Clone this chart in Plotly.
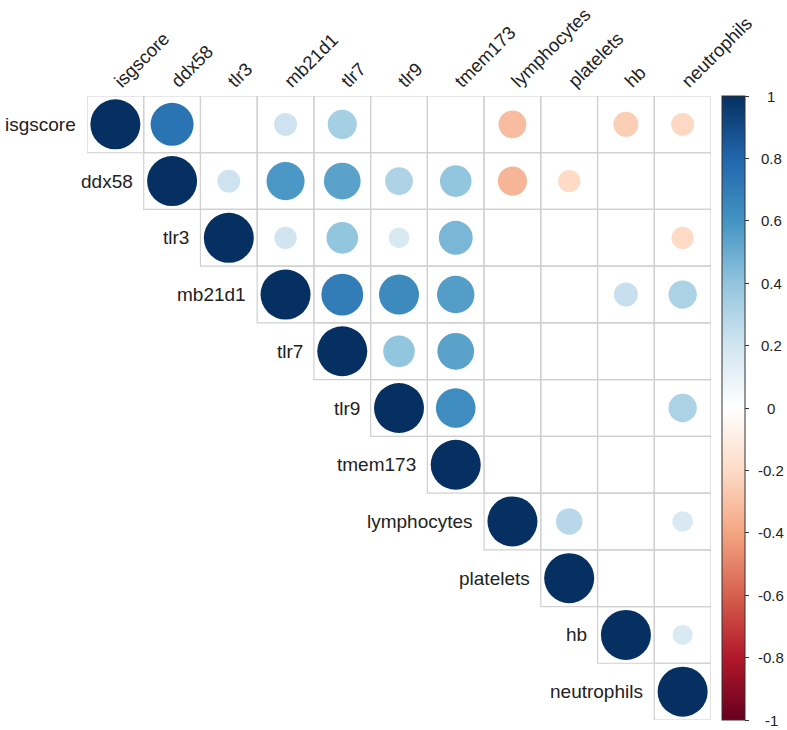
import plotly.graph_objects as go

names = ["isgscore", "ddx58", "tlr3", "mb21d1", "tlr7", "tlr9", "tmem173",
         "lymphocytes", "platelets", "hb", "neutrophils"]

# upper-triangle correlations (row starts at its diagonal); None = not shown
row_isgscore = [1, 0.74, None, 0.21, 0.34, None, None, -0.31, None, -0.25, -0.21]
row_ddx58 = [1, 0.21, 0.58, 0.54, 0.31, 0.40, -0.34, -0.20, None, None]
row_tlr3 = [1, 0.20, 0.40, 0.17, 0.46, None, None, None, -0.20]
row_mb21d1 = [1, 0.70, 0.64, 0.56, None, None, 0.23, 0.32]
row_tlr7 = [1, 0.40, 0.54, None, None, None, None]
row_tlr9 = [1, 0.63, None, None, None, 0.32]
row_tmem173 = [1, None, None, None, None]
row_lymphocytes = [1, 0.28, None, 0.17]
row_platelets = [1, None, None]
row_hb = [1, 0.16]
row_neutrophils = [1]

rows = [row_isgscore, row_ddx58, row_tlr3, row_mb21d1, row_tlr7, row_tlr9,
        row_tmem173, row_lymphocytes, row_platelets, row_hb, row_neutrophils]

tick_vals = [1, 0.8, 0.6, 0.4, 0.2, 0, -0.2, -0.4, -0.6, -0.8, -1]
tick_text = ["1", "0.8", "0.6", "0.4", "0.2", "0", "-0.2", "-0.4", "-0.6", "-0.8", "-1"]

col2 = ["#67001F", "#B2182B", "#D6604D", "#F4A582", "#FDDBC7", "#FFFFFF",
        "#D1E5F0", "#92C5DE", "#4393C3", "#2166AC", "#053061"]
colorscale = [[i / (len(col2) - 1), c] for i, c in enumerate(col2)]

FONT = "Liberation Sans, Arial, sans-serif"
MAXD = 50  # diameter of a |r|=1 circle in px
ML, MT, PW = 87, 96, 624

xs, ys, vals, sizes = [], [], [], []
for i, row in enumerate(rows):
    for k, v in enumerate(row):
        if v is None:
            continue
        j = i + k
        xs.append(names[j])
        ys.append(names[i])
        vals.append(v)
        sizes.append(MAXD * abs(v) ** 0.5)

fig = go.Figure()

# grid cells (upper triangle)
shapes = []
n = len(names)
for i in range(n):
    for j in range(i, n):
        shapes.append(dict(type="rect", xref="x", yref="y",
                           x0=j - 0.5, x1=j + 0.5, y0=i - 0.5, y1=i + 0.5,
                           line=dict(color="#d0d0d0", width=1.2),
                           fillcolor="rgba(0,0,0,0)", layer="below"))

fig.add_trace(go.Scatter(
    x=xs, y=ys, mode="markers",
    marker=dict(size=sizes, color=vals, colorscale=colorscale, cmin=-1, cmax=1,
                opacity=1, line=dict(width=0),
                showscale=True,
                colorbar=dict(
                    x=(722 - ML) / PW, xanchor="left", xpad=0,
                    y=1, yanchor="top", ypad=0,
                    lenmode="pixels", len=PW, thickness=23,
                    outlinewidth=1, outlinecolor="#333333",
                    tickmode="array", tickvals=tick_vals,
                    ticks="outside", ticklen=4, tickcolor="#333333",
                    showticklabels=False,
                )),
    hoverinfo="skip", showlegend=False,
))

# invisible helper axis spanning the colour bar's value range, for its labels
fig.add_trace(go.Scatter(x=[None], y=[None], yaxis="y2", xaxis="x",
                         showlegend=False, hoverinfo="skip"))

annotations = []
for i, nm in enumerate(names):
    annotations.append(dict(x=i - 0.5, y=nm, xref="x", yref="y", text=nm,
                            showarrow=False, xanchor="right", yanchor="middle",
                            xshift=-9,
                            font=dict(family=FONT, size=19, color="#222222")))
for v, t in zip(tick_vals, tick_text):
    annotations.append(dict(x=(771 - ML) / PW, y=v, xref="paper", yref="y2",
                            text=t, showarrow=False, xanchor="center",
                            yanchor="middle",
                            font=dict(family=FONT, size=15, color="#222222")))

fig.update_layout(
    width=787, height=730,
    margin=dict(l=ML, r=787 - ML - PW, t=MT, b=730 - MT - PW, autoexpand=False),
    paper_bgcolor="white", plot_bgcolor="white",
    shapes=shapes, annotations=annotations,
    xaxis=dict(type="category", categoryorder="array", categoryarray=names,
               range=[-0.5, n - 0.5], side="top", tickangle=-45,
               showgrid=False, zeroline=False, showline=False, ticks="",
               automargin=False, ticklabelstandoff=0,
               tickfont=dict(family=FONT, size=18.5, color="#222222")),
    yaxis=dict(type="category", categoryorder="array", categoryarray=names,
               range=[n - 0.5, -0.5], showgrid=False, zeroline=False,
               automargin=False,
               showline=False, showticklabels=False, ticks=""),
    yaxis2=dict(overlaying="y", range=[-1, 1], visible=False,
                automargin=False),
)

fig.write_html("out.html", config={"displayModeBar": False},
               post_script="document.body.style.margin='0px';")
